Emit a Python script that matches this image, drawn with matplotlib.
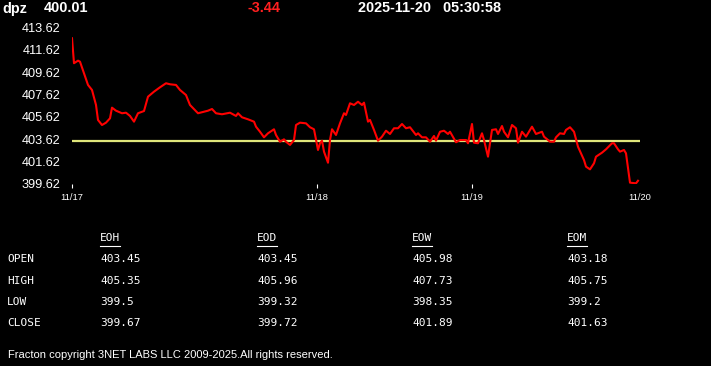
import matplotlib
matplotlib.use('Agg')
import matplotlib.pyplot as plt
from matplotlib.lines import Line2D

symbol = 'dpz'
last = '400.01'
change = '-3.44'
stamp = '2025-11-20   05:30:58'

# bar index (session time) and price
bar = [0, 1, 3, 4, 6, 8, 10, 12, 13, 15, 17, 19, 20, 22, 25, 27, 29, 31, 33, 36,
       38, 41, 44, 47, 49, 52, 54, 57, 59, 63, 66, 68, 70, 72, 75, 79, 82, 83, 85, 88,
       91, 92, 94, 96, 98, 101, 102, 104, 106, 107, 109, 111, 112, 114, 117, 119, 121, 123, 124, 125,
       126, 128, 129, 130, 132, 134, 136, 137, 139, 141, 143, 145, 146, 148, 149, 151, 153, 155, 157, 159,
       161, 163, 165, 167, 169, 172, 173, 175, 177, 179, 181, 182, 184, 186, 188, 189, 192, 194, 197, 198,
       200, 201, 203, 205, 206, 208, 210, 212, 213, 215, 216, 218, 220, 222, 223, 225, 227, 230, 232, 235,
       236, 239, 241, 242, 244, 246, 247, 249, 251, 253, 256, 257, 259, 261, 262, 265, 267, 270, 271, 273,
       274, 276, 277, 278, 279, 282, 283]
price = [412.64, 410.41, 410.64, 410.55, 409.51, 408.47, 408.02, 406.68, 405.34, 404.89,
         405.10, 405.49, 406.44, 406.17, 405.94, 405.99, 405.70, 405.19, 405.94, 406.14,
         407.42, 407.87, 408.26, 408.62, 408.53, 408.47, 408.02, 407.57, 406.68, 405.94,
         406.08, 406.17, 406.32, 405.94, 405.85, 405.99, 405.70, 405.94, 405.58, 405.40,
         405.19, 404.74, 404.29, 403.79, 404.15, 404.51, 404.00, 403.40, 403.61, 403.40,
         403.11, 403.55, 404.89, 405.10, 405.04, 404.69, 404.51, 402.66, 403.26, 403.49,
         402.51, 401.52, 403.55, 404.51, 404.00, 405.04, 405.94, 405.79, 406.83, 406.68,
         406.97, 406.68, 406.89, 405.19, 405.34, 404.45, 403.49, 403.85, 404.38, 404.09,
         404.60, 404.60, 404.98, 404.60, 404.69, 404.00, 404.15, 403.79, 403.79, 403.40,
         403.91, 403.49, 404.29, 404.38, 404.09, 404.29, 403.35, 403.55, 403.55, 403.26,
         404.98, 403.31, 403.26, 404.15, 403.55, 402.06, 404.45, 404.51, 404.09, 404.80,
         404.29, 403.79, 404.89, 404.60, 403.31, 404.29, 403.85, 404.74, 404.09, 404.29,
         403.85, 403.40, 403.40, 403.79, 404.15, 404.09, 404.45, 404.69, 404.29, 402.95,
         401.76, 401.17, 400.93, 401.47, 402.06, 402.42, 402.72, 403.26, 403.26, 402.72,
         402.51, 402.66, 402.36, 401.02, 399.74, 399.68, 399.91]
ref_level = 403.42

y_ticks = [399.62, 401.62, 403.62, 405.62, 407.62, 409.62, 411.62, 413.62]
day_pos = [0, 122.5, 200, 284]
day_lbl = ['11/17', '11/18', '11/19', '11/20']

cols = ['EOH', 'EOD', 'EOW', 'EOM']
rows = ['OPEN', 'HIGH', 'LOW', 'CLOSE']
eoh = [403.45, 405.35, 399.5, 399.67]
eod = [403.45, 405.96, 399.32, 399.72]
eow = [405.98, 407.73, 398.35, 401.89]
eom = [403.18, 405.75, 399.2, 401.63]
table = [eoh, eod, eow, eom]

W, H = 711, 366
fig = plt.figure(figsize=(W / 100, H / 100), dpi=100, facecolor='black')


def px(x, y):
    return x / W, 1 - y / H


ax = fig.add_axes([72 / W, (H - 184) / H, 568 / W, (184 - 27.3) / H])
ax.set_facecolor('black')
ax.plot([0, 284], [ref_level, ref_level], color='#dfe57a', lw=1.6, solid_capstyle='butt')
ax.plot(bar, price, color='#ff0000', lw=1.5)
ax.set_xlim(0, 284)
ax.set_ylim(399.62, 413.62)
for s in ax.spines.values():
    s.set_visible(False)

ax.set_yticks(y_ticks)
ax.set_yticklabels(['%.2f' % v for v in y_ticks])
ax.tick_params(axis='y', length=0, pad=8, labelcolor='white', labelsize=9.2)
for lb in ax.get_yticklabels():
    lb.set_family('Liberation Sans')

ax.set_xticks(day_pos[:3])
ax.set_xticklabels(day_lbl[:3])
ax.set_xticks(day_pos[3:], minor=True)
ax.set_xticklabels(day_lbl[3:], minor=True)
ax.tick_params(axis='x', which='major', length=3, width=0.8, color='white', pad=3.5,
               labelcolor='white', labelsize=6.7)
ax.tick_params(axis='x', which='minor', length=0, pad=6.5, labelcolor='white', labelsize=6.7)
for lb in ax.get_xticklabels() + ax.get_xticklabels(minor=True):
    lb.set_family('Liberation Sans')

# header
hdr = dict(va='center', ha='left', fontsize=10.4, fontweight='bold', family='Liberation Sans')
fig.text(*px(2, 8.5), symbol, color='white', **hdr)
fig.text(*px(44, 8.5), last, color='white', **hdr)
fig.text(*px(247, 8.5), change, color='#ff2020', **hdr)
fig.text(*px(358, 8.5), stamp, color='white', **hdr)

# table
mono = dict(va='center', ha='left', fontsize=8, family='DejaVu Sans Mono', color='white')
col_x = [100, 257, 412, 567]
row_y = [259, 281, 302, 323]
fig.canvas.draw()
rend = fig.canvas.get_renderer()
for cx, name, vals in zip(col_x, cols, table):
    t = fig.text(*px(cx, 238), name, **mono)
    w = t.get_window_extent(rend).width
    fig.add_artist(Line2D([cx / W, (cx + w) / W], [1 - 245.5 / H, 1 - 245.5 / H],
                          color='white', lw=0.8))
    for ry, v in zip(row_y, vals):
        fig.text(*px(cx, ry), str(v), **mono)
for ry, r in zip(row_y, rows):
    fig.text(*px(7, ry), r, **mono)

fig.text(*px(8, 355), 'Fracton copyright 3NET LABS LLC 2009-2025.All rights reserved.',
         va='center', ha='left', fontsize=8, family='Liberation Sans', color='white')

fig.savefig('out.png', dpi=100, facecolor='black')
